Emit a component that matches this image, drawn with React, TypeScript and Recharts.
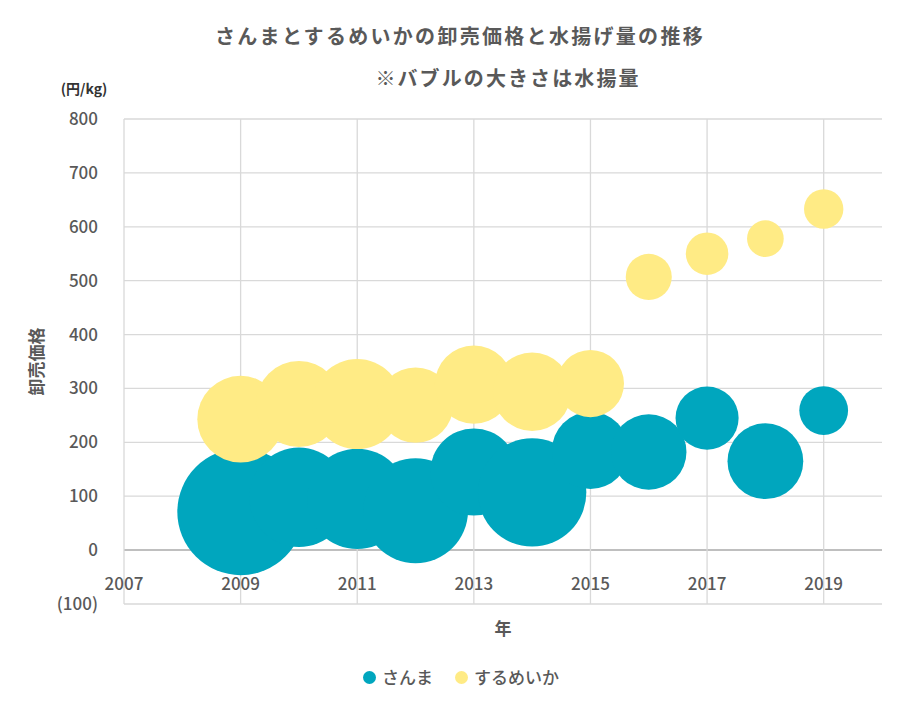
import {
  ScatterChart,
  Scatter,
  XAxis,
  YAxis,
  ZAxis,
  ReferenceLine,
} from "recharts";

// 年
const years = [2009, 2010, 2011, 2012, 2013, 2014, 2015, 2016, 2017, 2018, 2019];

// 卸売価格 (円/kg)
const sanmaPrice = [71, 98, 95, 73, 145, 107, 185, 182, 245, 165, 259];
const ikaPrice = [243, 271, 271, 269, 307, 294, 309, 507, 550, 578, 633];

// 水揚量 (千t) - bubble size
const sanmaCatch = [310, 191, 195, 213, 147, 227, 115, 110, 77, 111, 46];
const ikaCatch = [145, 143, 157, 110, 118, 119, 87, 41, 35, 26, 30];

const xTicks = [2007, 2009, 2011, 2013, 2015, 2017, 2019];
const yTicks = [-100, 0, 100, 200, 300, 400, 500, 600, 700, 800];

const TEAL = "#00A6BE";
const YELLOW = "#FFEB85";
const TEXT = "#595959";
const GRID = "#d9d9d9";
const FONT = "'Noto Sans CJK JP', 'Noto Sans', sans-serif";

const sanmaData = years.map((y, i) => ({ year: y, price: sanmaPrice[i], catch: sanmaCatch[i] }));
const ikaData = years.map((y, i) => ({ year: y, price: ikaPrice[i], catch: ikaCatch[i] }));

const XTick = (props: any) => {
  const { x, y, payload } = props;
  return (
    <text
      x={x}
      y={y - 24}
      textAnchor="middle"
      dominantBaseline="central"
      fill={TEXT}
      fontSize={17}
      fontFamily={FONT}
      fontWeight={500}
    >
      {payload.value}
    </text>
  );
};

const YLabel = (props: any) => {
  const { viewBox } = props;
  const cx = 27;
  const cy = viewBox.y + viewBox.height / 2;
  return (
    <text
      x={cx}
      y={cy}
      transform={`rotate(-90 ${cx} ${cy})`}
      textAnchor="middle"
      dominantBaseline="central"
      fill={TEXT}
      fontSize={17}
      fontWeight={700}
      fontFamily={FONT}
    >
      卸売価格
    </text>
  );
};

const XLabel = (props: any) => {
  const { viewBox } = props;
  return (
    <text
      x={viewBox.x + viewBox.width / 2}
      y={619}
      textAnchor="middle"
      dominantBaseline="central"
      fill={TEXT}
      fontSize={17}
      fontWeight={700}
      fontFamily={FONT}
    >
      年
    </text>
  );
};

const legendItems = [
  { name: "さんま", color: TEAL },
  { name: "するめいか", color: YELLOW },
];

export default function App() {
  return (
    <div style={{ position: "relative", width: 903, height: 687, fontFamily: FONT, color: TEXT }}>
      <div
        style={{
          position: "absolute",
          left: 452,
          top: 27,
          transform: "translate(-50%, -50%)",
          whiteSpace: "nowrap",
          fontSize: 20,
          fontWeight: 700,
          letterSpacing: 2.3,
        }}
      >
        さんまとするめいかの卸売価格と水揚げ量の推移
      </div>
      <div
        style={{
          position: "absolute",
          left: 500,
          top: 69,
          transform: "translate(-50%, -50%)",
          whiteSpace: "nowrap",
          fontSize: 20,
          fontWeight: 700,
          letterSpacing: 2.1,
        }}
      >
        ※バブルの大きさは水揚量
      </div>
      <div
        style={{
          position: "absolute",
          left: 76,
          top: 80,
          transform: "translate(-50%, -50%)",
          whiteSpace: "nowrap",
          fontSize: 14,
          fontWeight: 700,
          color: "#333",
        }}
      >
        (円/kg)
      </div>
      <ScatterChart
        width={903}
        height={687}
        margin={{ top: 111, right: 29, left: 0, bottom: 61 }}
      >
        {/* grid drawn per tick so the plot has no right edge line */}
        {yTicks.map((t) => (
          <ReferenceLine
            key={`hy-${t}`}
            y={t}
            stroke={t === 0 ? "#bfbfbf" : GRID}
            strokeWidth={t === 0 ? 2 : 1.3}
          />
        ))}
        {xTicks.map((t) => (
          <ReferenceLine key={`vx-${t}`} x={t} stroke={GRID} strokeWidth={1.3} />
        ))}
        <XAxis
          type="number"
          dataKey="year"
          domain={[2007, 2020]}
          ticks={xTicks}
          interval={0}
          height={30}
          axisLine={false}
          tickLine={false}
          tickSize={0}
          tick={<XTick />}
          label={<XLabel />}
        />
        <YAxis
          type="number"
          dataKey="price"
          domain={[-100, 800]}
          ticks={yTicks}
          interval={0}
          width={116}
          axisLine={false}
          tickLine={false}
          tickSize={0}
          tickMargin={26}
          tick={{ fill: TEXT, fontSize: 17, fontFamily: FONT, fontWeight: 500 }}
          tickFormatter={(v: number) => (v < 0 ? `(${-v})` : `${v}`)}
          label={<YLabel />}
        />
        <ZAxis type="number" dataKey="catch" domain={[0, 310]} range={[0, 12588]} />
        <Scatter name="さんま" data={sanmaData} fill={TEAL} isAnimationActive={false} />
        <Scatter name="するめいか" data={ikaData} fill={YELLOW} isAnimationActive={false} />
      </ScatterChart>
      <ul
        style={{
          position: "absolute",
          top: 669,
          left: 355,
          margin: 0,
          padding: 0,
          listStyle: "none",
          display: "flex",
          gap: 22,
          fontSize: 17,
          fontWeight: 500,
        }}
      >
        {legendItems.map((item, index) => (
          <li key={`item-${index}`} style={{ display: "flex", alignItems: "center", height: 0, lineHeight: 0 }}>
            <span
              style={{
                width: 13,
                height: 13,
                borderRadius: "50%",
                backgroundColor: item.color,
                marginRight: 6,
                display: "inline-block",
              }}
            ></span>
            {item.name}
          </li>
        ))}
      </ul>
    </div>
  );
}
